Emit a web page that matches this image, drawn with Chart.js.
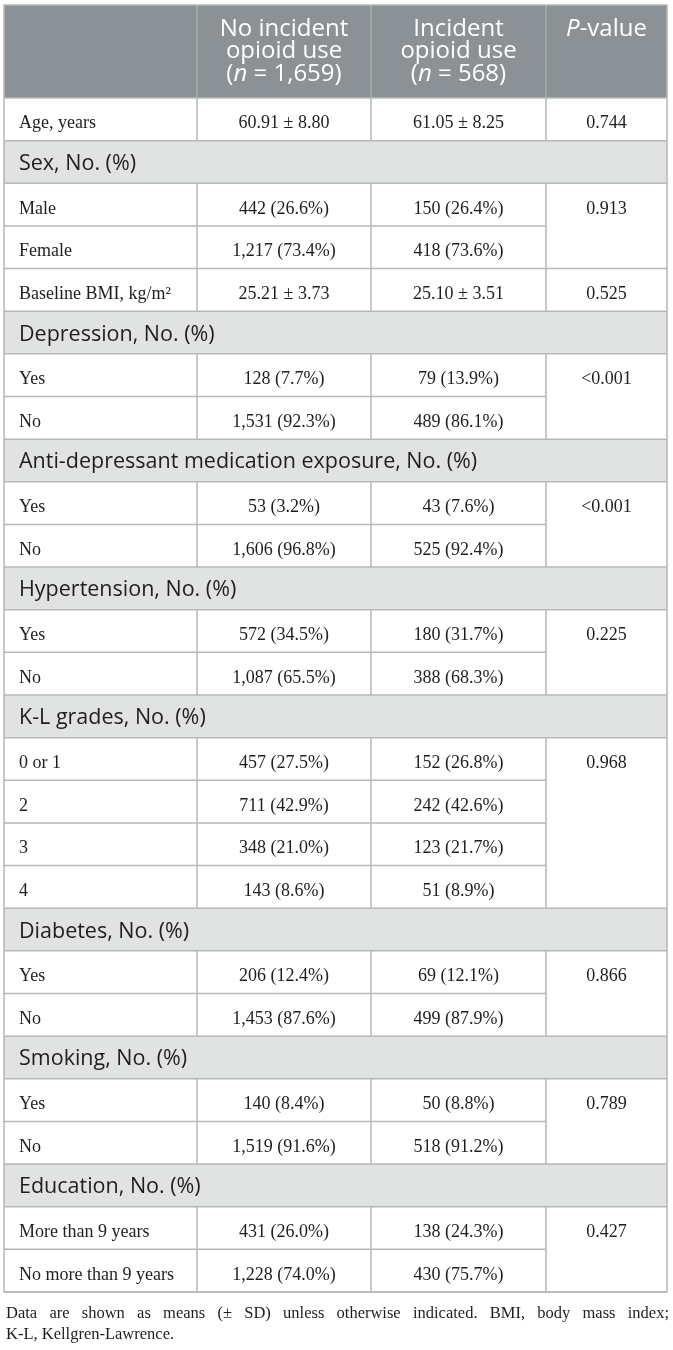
<!DOCTYPE html>
<html>
<head>
<meta charset="utf-8">
<script src="https://cdn.jsdelivr.net/npm/chart.js@4.4.1/dist/chart.umd.min.js"></script>
<style>
  body { margin: 0; background: #fff; }
  #wrap { width: 673px; height: 1350px; }
</style>
</head>
<body>
<div id="wrap"><canvas id="table"></canvas></div>
<script>
// table content (*...* = italic)
const headerLines = [
  [],
  ["No incident", "opioid use", "(*n* = 1,659)"],
  ["Incident", "opioid use", "(*n* = 568)"],
  ["*P*-value"],
];

const rowLabels = [
  "Age, years", "Sex, No. (%)", "Male", "Female", "Baseline BMI, kg/m²",
  "Depression, No. (%)", "Yes", "No",
  "Anti-depressant medication exposure, No. (%)", "Yes", "No",
  "Hypertension, No. (%)", "Yes", "No",
  "K-L grades, No. (%)", "0 or 1", "2", "3", "4",
  "Diabetes, No. (%)", "Yes", "No",
  "Smoking, No. (%)", "Yes", "No",
  "Education, No. (%)", "More than 9 years", "No more than 9 years",
];

// section heading rows (index into rowLabels)
const groupRows = [1, 5, 8, 11, 14, 19, 22, 25];

const noIncidentUse = [
  "60.91 ± 8.80", null, "442 (26.6%)", "1,217 (73.4%)", "25.21 ± 3.73",
  null, "128 (7.7%)", "1,531 (92.3%)",
  null, "53 (3.2%)", "1,606 (96.8%)",
  null, "572 (34.5%)", "1,087 (65.5%)",
  null, "457 (27.5%)", "711 (42.9%)", "348 (21.0%)", "143 (8.6%)",
  null, "206 (12.4%)", "1,453 (87.6%)",
  null, "140 (8.4%)", "1,519 (91.6%)",
  null, "431 (26.0%)", "1,228 (74.0%)",
];

const incidentUse = [
  "61.05 ± 8.25", null, "150 (26.4%)", "418 (73.6%)", "25.10 ± 3.51",
  null, "79 (13.9%)", "489 (86.1%)",
  null, "43 (7.6%)", "525 (92.4%)",
  null, "180 (31.7%)", "388 (68.3%)",
  null, "152 (26.8%)", "242 (42.6%)", "123 (21.7%)", "51 (8.9%)",
  null, "69 (12.1%)", "499 (87.9%)",
  null, "50 (8.8%)", "518 (91.2%)",
  null, "138 (24.3%)", "430 (75.7%)",
];

// a p-value starts a (possibly merged) cell; null rows continue the cell above
const pValues = [
  "0.744", null, "0.913", null, "0.525",
  null, "<0.001", null,
  null, "<0.001", null,
  null, "0.225", null,
  null, "0.968", null, null, null,
  null, "0.866", null,
  null, "0.789", null,
  null, "0.427", null,
];

const footnote = [
  "Data are shown as means (± SD) unless otherwise indicated. BMI, body mass index;",
  "K-L, Kellgren-Lawrence.",
];

// layout (x in px-like units, y in row units)
const colEdges = [4, 197, 371, 546, 667];
const headerTop = -2.18;
const headerLineY = [-1.62, -1.09, -0.57];
const footnoteY = [28.5, 29.0];
const yMin = -2.298;
const yMax = 29.36;

const HEADER_BG = "#8b9195";
const HEADER_RULE = "#a9aeb1";
const GROUP_BG = "#e1e3e2";
const GRID = "#b5b8b8";
const INK = "#1e1e1e";

const styles = {
  header: { font: "24px 'Open Sans'", color: "#ffffff", align: "center", dy: 0, baseline: "middle" },
  group: { font: "21.5px 'Open Sans'", color: INK, align: "left", dy: 8, baseline: "alphabetic" },
  body: { font: "18px 'Liberation Serif'", color: INK, align: "left", dy: 9, baseline: "alphabetic" },
  cell: { font: "18px 'Liberation Serif'", color: INK, align: "center", dy: 9, baseline: "alphabetic" },
};

const isGroup = (i) => groupRows.includes(i);
const colCenter = (c) => (colEdges[c] + colEdges[c + 1]) / 2;

function cellPoints(values, col) {
  const pts = [];
  values.forEach((v, i) => {
    if (v !== null) pts.push({ x: colCenter(col), y: i + 0.5, text: v });
  });
  return pts;
}

const headerPoints = [];
headerLines.forEach((lines, c) => {
  lines.forEach((t, k) => headerPoints.push({ x: colCenter(c), y: headerLineY[k], text: t }));
});

const labelPoints = rowLabels.map((t, i) => ({
  x: colEdges[0] + 15,
  y: i + 0.5,
  text: t,
  kind: isGroup(i) ? "group" : "body",
}));

function fontVariant(font, italic) {
  return italic ? "italic " + font : font;
}

function drawRich(ctx, text, x, y, st) {
  const parts = text.split("*");
  let total = 0;
  parts.forEach((p, k) => {
    ctx.font = fontVariant(st.font, k % 2 === 1);
    total += ctx.measureText(p).width;
  });
  let cx = x;
  if (st.align === "center") cx = x - total / 2;
  ctx.fillStyle = st.color;
  ctx.textAlign = "left";
  ctx.textBaseline = st.baseline;
  parts.forEach((p, k) => {
    ctx.font = fontVariant(st.font, k % 2 === 1);
    ctx.fillText(p, cx, y + st.dy);
    cx += ctx.measureText(p).width;
  });
}

function line(ctx, x1, y1, x2, y2) {
  ctx.beginPath();
  ctx.moveTo(x1, y1);
  ctx.lineTo(x2, y2);
  ctx.stroke();
}

const tablePlugin = {
  id: "tableGrid",
  beforeDatasetsDraw(chart) {
    const ctx = chart.ctx;
    const px = (v) => chart.scales.x.getPixelForValue(v);
    const py = (v) => chart.scales.y.getPixelForValue(v);
    const left = px(colEdges[0]);
    const right = px(colEdges[4]);
    const nRows = rowLabels.length;
    ctx.save();

    ctx.fillStyle = HEADER_BG;
    ctx.fillRect(left, py(headerTop), right - left, py(0) - py(headerTop));

    ctx.fillStyle = GROUP_BG;
    groupRows.forEach((r) => ctx.fillRect(left, py(r), right - left, py(r + 1) - py(r)));

    ctx.lineWidth = 1.5;
    ctx.strokeStyle = HEADER_RULE;
    for (let c = 1; c < 4; c++) line(ctx, px(colEdges[c]), py(headerTop), px(colEdges[c]), py(0));

    ctx.strokeStyle = GRID;
    for (let i = 0; i <= nRows; i++) {
      const full = i === nRows || isGroup(i) || isGroup(i - 1) || pValues[i] !== null;
      line(ctx, left, py(i), px(full ? colEdges[4] : colEdges[3]), py(i));
    }
    for (let i = 0; i < nRows; i++) {
      if (isGroup(i)) continue;
      for (let c = 1; c < 4; c++) line(ctx, px(colEdges[c]), py(i), px(colEdges[c]), py(i + 1));
    }
    ctx.strokeRect(left, py(headerTop), right - left, py(nRows) - py(headerTop));
    ctx.restore();
  },
  afterDatasetsDraw(chart) {
    const ctx = chart.ctx;
    ctx.save();
    chart.data.datasets.forEach((ds, d) => {
      const meta = chart.getDatasetMeta(d);
      meta.data.forEach((el, j) => {
        const item = ds.data[j];
        drawRich(ctx, item.text, el.x, el.y, styles[item.kind || ds.kind]);
      });
    });

    // footnote, justified first line
    const px = (v) => chart.scales.x.getPixelForValue(v);
    const py = (v) => chart.scales.y.getPixelForValue(v);
    ctx.font = "16.5px 'Liberation Serif'";
    ctx.fillStyle = INK;
    ctx.textBaseline = "middle";
    ctx.textAlign = "left";
    const x0 = px(colEdges[0]) + 2;
    const x1 = px(colEdges[4]) + 2;
    const words = footnote[0].split(" ");
    const wordsWidth = words.reduce((s, w) => s + ctx.measureText(w).width, 0);
    const gap = (x1 - x0 - wordsWidth) / (words.length - 1);
    let cx = x0;
    words.forEach((w) => {
      ctx.fillText(w, cx, py(footnoteY[0]));
      cx += ctx.measureText(w).width + gap;
    });
    ctx.fillText(footnote[1], x0, py(footnoteY[1]));
    ctx.restore();
  },
};

new Chart(document.getElementById("table"), {
  type: "scatter",
  data: {
    datasets: [
      { label: "header", kind: "header", data: headerPoints },
      { label: "labels", kind: "body", data: labelPoints },
      { label: "No incident opioid use", kind: "cell", data: cellPoints(noIncidentUse, 1) },
      { label: "Incident opioid use", kind: "cell", data: cellPoints(incidentUse, 2) },
      { label: "P-value", kind: "cell", data: cellPoints(pValues, 3) },
    ],
  },
  options: {
    responsive: true,
    maintainAspectRatio: false,
    animation: false,
    events: [],
    layout: { padding: 0 },
    elements: { point: { radius: 0, hoverRadius: 0 } },
    plugins: { legend: { display: false }, tooltip: { enabled: false } },
    scales: {
      x: { type: "linear", min: 0, max: 673, display: false },
      y: { type: "linear", min: yMin, max: yMax, reverse: true, display: false },
    },
  },
  plugins: [tablePlugin],
});
</script>
</body>
</html>
